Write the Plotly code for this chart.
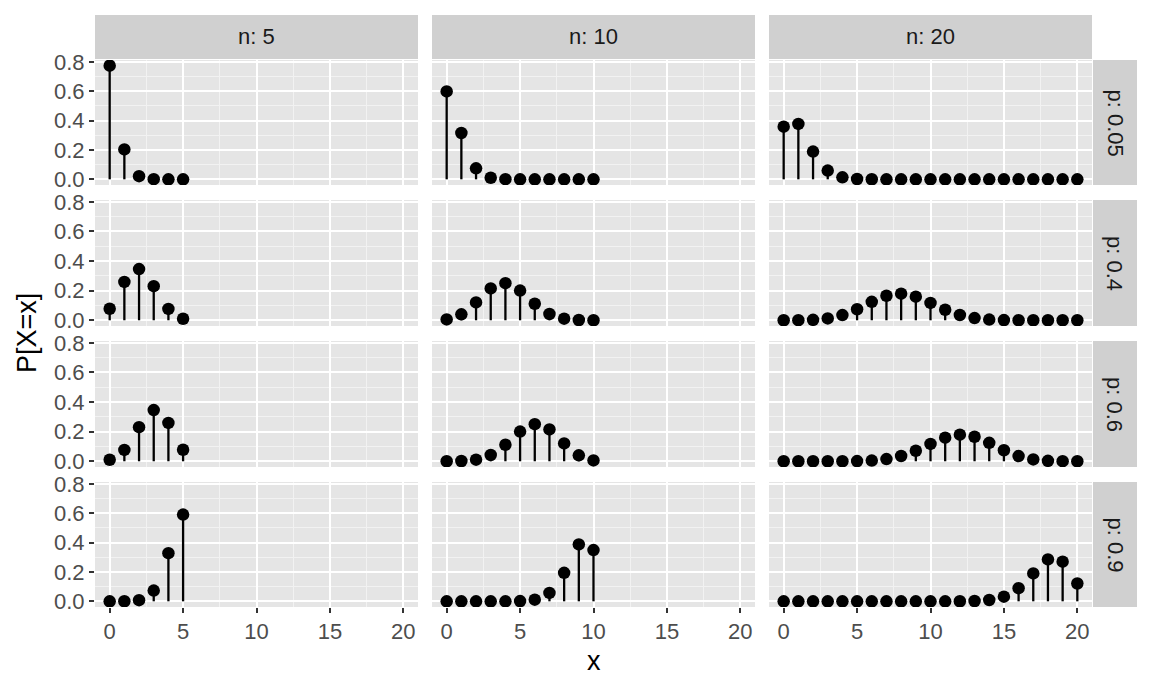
import plotly.graph_objects as go

# ---- data ----
n_values = [5, 10, 20]
p_values = ["0.05", "0.4", "0.6", "0.9"]
x_ticks = [0, 5, 10, 15, 20]
y_ticks = [0.0, 0.2, 0.4, 0.6, 0.8]

pmf_n5_p005 = [0.7738, 0.2036, 0.0214, 0.0011, 0.0000, 0.0000]
pmf_n10_p005 = [0.5987, 0.3151, 0.0746, 0.0105, 0.0010, 0.0001, 0.0000, 0.0000, 0.0000, 0.0000, 0.0000]
pmf_n20_p005 = [0.3585, 0.3774, 0.1887, 0.0596, 0.0133, 0.0022, 0.0003, 0.0000, 0.0000, 0.0000, 0.0000,
                0.0000, 0.0000, 0.0000, 0.0000, 0.0000, 0.0000, 0.0000, 0.0000, 0.0000, 0.0000]

pmf_n5_p04 = [0.0778, 0.2592, 0.3456, 0.2304, 0.0768, 0.0102]
pmf_n10_p04 = [0.0060, 0.0403, 0.1209, 0.2150, 0.2508, 0.2007, 0.1115, 0.0425, 0.0106, 0.0016, 0.0001]
pmf_n20_p04 = [0.0000, 0.0005, 0.0031, 0.0123, 0.0350, 0.0746, 0.1244, 0.1659, 0.1797, 0.1597, 0.1171,
               0.0710, 0.0355, 0.0146, 0.0049, 0.0013, 0.0003, 0.0000, 0.0000, 0.0000, 0.0000]

pmf_n5_p06 = [0.0102, 0.0768, 0.2304, 0.3456, 0.2592, 0.0778]
pmf_n10_p06 = [0.0001, 0.0016, 0.0106, 0.0425, 0.1115, 0.2007, 0.2508, 0.2150, 0.1209, 0.0403, 0.0060]
pmf_n20_p06 = [0.0000, 0.0000, 0.0000, 0.0000, 0.0003, 0.0013, 0.0049, 0.0146, 0.0355, 0.0710, 0.1171,
               0.1597, 0.1797, 0.1659, 0.1244, 0.0746, 0.0350, 0.0123, 0.0031, 0.0005, 0.0000]

pmf_n5_p09 = [0.0000, 0.0005, 0.0081, 0.0729, 0.3281, 0.5905]
pmf_n10_p09 = [0.0000, 0.0000, 0.0000, 0.0000, 0.0001, 0.0015, 0.0112, 0.0574, 0.1937, 0.3874, 0.3487]
pmf_n20_p09 = [0.0000, 0.0000, 0.0000, 0.0000, 0.0000, 0.0000, 0.0000, 0.0000, 0.0000, 0.0000, 0.0000,
               0.0001, 0.0004, 0.0020, 0.0089, 0.0319, 0.0898, 0.1901, 0.2852, 0.2702, 0.1216]

grid_rows = [
    [pmf_n5_p005, pmf_n10_p005, pmf_n20_p005],
    [pmf_n5_p04, pmf_n10_p04, pmf_n20_p04],
    [pmf_n5_p06, pmf_n10_p06, pmf_n20_p06],
    [pmf_n5_p09, pmf_n10_p09, pmf_n20_p09],
]

# ---- layout geometry (pixels) ----
W, H = 1152, 691
col_px = [(95, 418), (432, 755), (769, 1092)]
row_px = [(60, 185), (200, 326), (341, 467), (482, 607)]
strip_top = (15, 59)
strip_right = (1093, 1137)

FONT = "Liberation Sans, Arial, sans-serif"
ymax = max(max(v) for row in grid_rows for v in row)
yr = [-0.05 * ymax, ymax * 1.05]
xr = [-1, 21]

fig = go.Figure()
layout = dict(
    template="none",
    width=W, height=H, autosize=False, margin=dict(l=0, r=0, t=0, b=0, pad=0),
    paper_bgcolor="white", plot_bgcolor="#E5E5E5",
    showlegend=False, font=dict(family=FONT),
)
shapes = []
annotations = []

for r in range(4):
    for c in range(3):
        i = r * 3 + c + 1
        vals = grid_rows[r][c]
        xs = list(range(len(vals)))
        sx, sy = [], []
        for k, v in zip(xs, vals):
            sx += [k, k, None]
            sy += [0, v, None]
        xa = "x" if i == 1 else f"x{i}"
        ya = "y" if i == 1 else f"y{i}"
        fig.add_trace(go.Scatter(x=sx, y=sy, mode="lines", line=dict(color="black", width=2.3),
                                 xaxis=xa, yaxis=ya, hoverinfo="skip"))
        fig.add_trace(go.Scatter(x=xs, y=vals, mode="markers", marker=dict(color="black", size=12.5, line=dict(width=0)),
                                 xaxis=xa, yaxis=ya))
        x0, x1 = col_px[c]
        y0, y1 = row_px[r]
        bottom = r == 3
        left = c == 0
        layout["xaxis" if i == 1 else f"xaxis{i}"] = dict(
            domain=[x0 / W, x1 / W], anchor=ya, range=xr, automargin=False,
            tickvals=x_ticks, showticklabels=bottom,
            ticks="outside" if bottom else "", ticklen=5, tickwidth=1.6, tickcolor="#333333",
            tickfont=dict(size=22, color="#4D4D4D", family=FONT),
            showgrid=True, gridcolor="white", gridwidth=2.3, zeroline=False, showline=False,
            minor=dict(tickvals=[2.5, 7.5, 12.5, 17.5], showgrid=True, gridcolor="#F2F2F2", gridwidth=1.2, ticks=""),
        )
        layout["yaxis" if i == 1 else f"yaxis{i}"] = dict(
            domain=[1 - y1 / H, 1 - y0 / H], anchor=xa, range=yr, automargin=False,
            tickvals=y_ticks, ticktext=[f"{t:.1f}" for t in y_ticks], showticklabels=left,
            ticks="outside" if left else "", ticklen=5, tickwidth=1.6, tickcolor="#333333",
            tickfont=dict(size=22, color="#4D4D4D", family=FONT),
            showgrid=True, gridcolor="white", gridwidth=2.3, zeroline=False, showline=False,
            minor=dict(tickvals=[0.1, 0.3, 0.5, 0.7], showgrid=True, gridcolor="#F2F2F2", gridwidth=1.2, ticks=""),
        )

# top strips
for c, n in enumerate(n_values):
    x0, x1 = col_px[c]
    shapes.append(dict(type="rect", xref="paper", yref="paper", x0=x0 / W, x1=x1 / W,
                       y0=1 - strip_top[1] / H, y1=1 - strip_top[0] / H,
                       fillcolor="#D0D0D0", line=dict(width=0), layer="below"))
    annotations.append(dict(text=f"n: {n}", xref="paper", yref="paper",
                            x=(x0 + x1) / 2 / W, y=1 - (strip_top[0] + strip_top[1]) / 2 / H,
                            showarrow=False, font=dict(size=22, color="#1A1A1A", family=FONT),
                            xanchor="center", yanchor="middle"))
# right strips
for r, p in enumerate(p_values):
    y0, y1 = row_px[r]
    shapes.append(dict(type="rect", xref="paper", yref="paper", x0=strip_right[0] / W, x1=strip_right[1] / W,
                       y0=1 - y1 / H, y1=1 - y0 / H,
                       fillcolor="#D0D0D0", line=dict(width=0), layer="below"))
    annotations.append(dict(text=f"p: {p}", xref="paper", yref="paper",
                            x=(strip_right[0] + strip_right[1]) / 2 / W, y=1 - (y0 + y1) / 2 / H,
                            showarrow=False, textangle=90, font=dict(size=22, color="#1A1A1A", family=FONT),
                            xanchor="center", yanchor="middle"))

# axis titles
annotations.append(dict(text="x", xref="paper", yref="paper", x=(95 + 1092) / 2 / W, y=1 - 661 / H,
                        showarrow=False, font=dict(size=27, color="black", family=FONT),
                        xanchor="center", yanchor="middle"))
annotations.append(dict(text="P[X=x]", xref="paper", yref="paper", x=27 / W, y=1 - 333 / H,
                        showarrow=False, textangle=-90, font=dict(size=27, color="black", family=FONT),
                        xanchor="center", yanchor="middle"))

layout["shapes"] = shapes
layout["annotations"] = annotations
fig.update_layout(**layout)
fig.write_html("out.html")
